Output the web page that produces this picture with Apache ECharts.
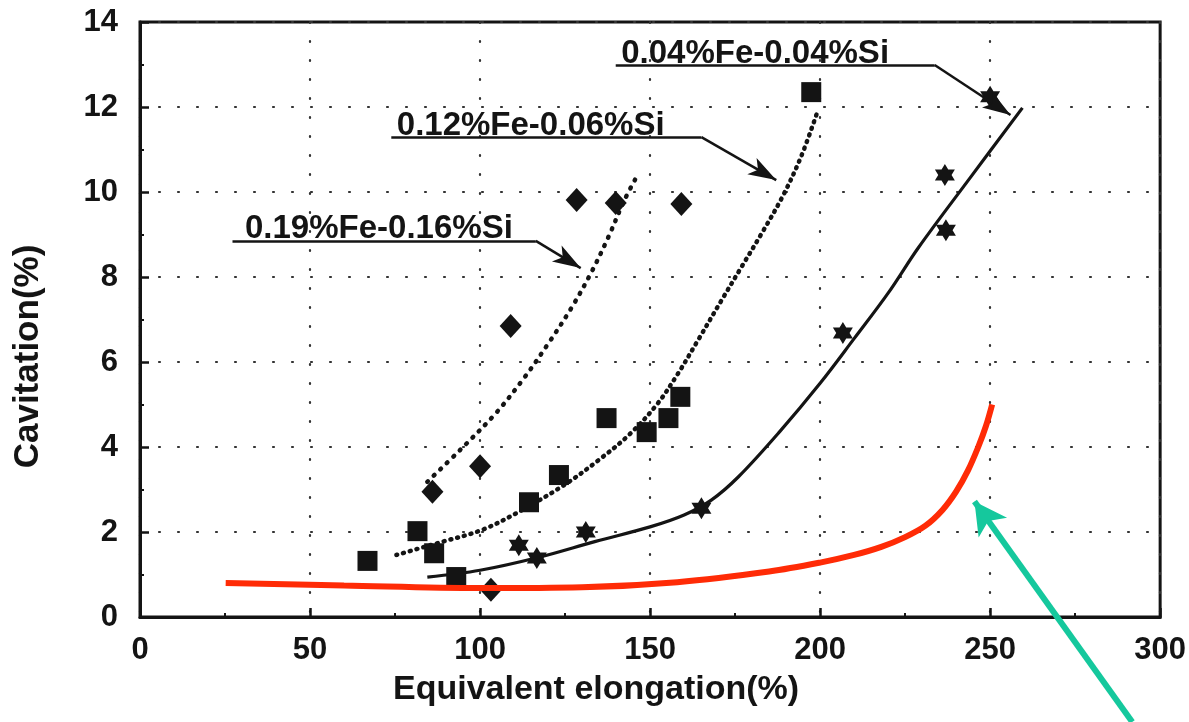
<!DOCTYPE html>
<html><head><meta charset="utf-8">
<script src="https://cdn.jsdelivr.net/npm/echarts@6/dist/echarts.min.js"></script>
<style>html,body{margin:0;padding:0;background:#fff}#c{width:1189px;height:722px}</style>
</head><body><div id="c"></div>
<script>
// ---- tick labels ----
const xTickLabels = [0, 50, 100, 150, 200, 250, 300];
const yTickLabels = [0, 2, 4, 6, 8, 10, 12, 14];

// ---- 0.19%Fe-0.16%Si (diamonds, dotted fit) ----
const fe019Points = [[86, 2.95], [100, 3.55], [109, 6.85], [128.4, 9.81], [139.9, 9.74], [159.2, 9.72], [103.2, 0.64]];
const fe019Fit = [[84.5, 3.18], [94.4, 3.95], [104.7, 4.8], [112.9, 5.62], [120.2, 6.45], [127, 7.29], [132.8, 8.12], [137.8, 8.95], [142.4, 9.8], [146, 10.35]];

// ---- 0.12%Fe-0.06%Si (squares, dotted fit) ----
const fe012Points = [[66.9, 1.32], [81.6, 2.02], [86.5, 1.5], [93, 0.94], [114.4, 2.7], [123.2, 3.34], [137.2, 4.68], [149, 4.35], [155.4, 4.68], [158.9, 5.18], [197.4, 12.35]];
const fe012Fit = [[75.4, 1.46], [88, 1.75], [100.6, 2.05], [112, 2.5], [125, 3.12], [135, 3.7], [144, 4.3], [152, 5.0], [158, 5.7], [164, 6.5], [171, 7.45], [177, 8.25], [183, 9.05], [189, 9.9], [194.5, 10.85], [199.4, 11.93]];

// ---- 0.04%Fe-0.04%Si (stars, solid fit) ----
const fe004Points = [[111.4, 1.69], [116.7, 1.39], [131.1, 2.0], [165.1, 2.56], [206.7, 6.68], [237, 9.1], [236.7, 10.4], [250, 12.24]];
const fe004Fit = [[84.5, 0.94], [100, 1.1], [117, 1.4], [134, 1.78], [150, 2.12], [160, 2.4], [168, 2.75], [176, 3.3], [188, 4.35], [200, 5.5], [210, 6.55], [220, 7.62], [229, 8.7], [244, 10.32], [259.5, 11.98]];

// ---- overlay annotations ----
const redCurve = [[25.2, 0.8], [60, 0.74], [100, 0.68], [130, 0.7], [158, 0.82], [185, 1.07], [200, 1.28], [210, 1.46], [218, 1.65], [225, 1.88], [231, 2.15], [236, 2.52], [240, 2.95], [243.5, 3.45], [246.5, 4.0], [248.8, 4.5], [250.6, 5.0]];
const greenArrow = [[291.8, -2.47], [245.4, 2.72]];

const labelTexts = ['0.19%Fe-0.16%Si', '0.12%Fe-0.06%Si', '0.04%Fe-0.04%Si'];
const leaderPaths = [
  [[27.2, 8.85], [116.4, 8.85], [129.6, 8.21]],
  [[73.9, 11.29], [165.1, 11.29], [187.1, 10.28]],
  [[139.9, 12.99], [233.7, 12.99], [256.0, 11.81]]
];
const labelShift = [13, 6, 6];

const ink = '#141414';
const fontFam = "'Liberation Sans', Arial, sans-serif";
const hexStar = 'path://M10 0 L12.89 5 L18.66 5 L15.77 10 L18.66 15 L12.89 15 L10 20 L7.11 15 L1.34 15 L4.23 10 L1.34 5 L7.11 5 Z';

function leader(path) {
  return {
    silent: true, animation: false, symbol: ['none', 'none'],
    label: { show: false }, emphasis: { disabled: true },
    lineStyle: { color: ink, width: 2.5, type: 'solid' },
    data: [
      [{ coord: path[0] }, { coord: path[1] }],
      [{ coord: path[1] }, { coord: path[2], symbol: 'arrow', symbolSize: [14, 28] }]
    ]
  };
}

const gridLine = { show: true, lineStyle: { color: '#333', width: 2.2, type: [1, 18], cap: 'round' } };

const chart = echarts.init(document.getElementById('c'), null, { renderer: 'canvas' });
chart.setOption({
  animation: false,
  backgroundColor: '#ffffff',
  grid: { left: 140, right: 26, top: 22, bottom: 105, show: true, borderColor: ink, borderWidth: 3, backgroundColor: 'transparent' },
  xAxis: {
    type: 'value', min: xTickLabels[0], max: xTickLabels[xTickLabels.length - 1], interval: xTickLabels[1] - xTickLabels[0],
    name: 'Equivalent elongation(%)', nameLocation: 'middle', nameGap: 56,
    nameTextStyle: { fontFamily: fontFam, fontWeight: 'bold', fontSize: 34, color: ink, padding: [0, 108, 0, 0] },
    axisLine: { lineStyle: { color: ink, width: 3 } },
    axisTick: { inside: true, length: 9, lineStyle: { color: ink, width: 2.5 } },
    minorTick: { show: true, splitNumber: 2, length: 4, lineStyle: { color: ink, width: 2 } },
    axisLabel: { margin: 18, fontFamily: fontFam, fontWeight: 'bold', fontSize: 31, color: ink },
    splitLine: gridLine
  },
  yAxis: {
    type: 'value', min: yTickLabels[0], max: yTickLabels[yTickLabels.length - 1], interval: yTickLabels[1] - yTickLabels[0],
    name: 'Cavitation(%)', nameLocation: 'middle', nameGap: 94, nameRotate: 90,
    nameTextStyle: { fontFamily: fontFam, fontWeight: 'bold', fontSize: 35, color: ink, padding: [0, 74, 0, 0] },
    axisLine: { lineStyle: { color: ink, width: 3 } },
    axisTick: { inside: true, length: 9, lineStyle: { color: ink, width: 2.5 } },
    minorTick: { show: true, splitNumber: 2, length: 4, lineStyle: { color: ink, width: 2 } },
    axisLabel: { margin: 22, fontFamily: fontFam, fontWeight: 'bold', fontSize: 31, color: ink },
    splitLine: gridLine
  },
  series: [
    { type: 'line', data: fe019Fit, smooth: 0.35, symbol: 'none', z: 3,
      lineStyle: { color: ink, width: 4.5, type: [1, 8], cap: 'round' }, markLine: leader(leaderPaths[0]) },
    { type: 'line', data: fe012Fit, smooth: 0.35, symbol: 'none', z: 3,
      lineStyle: { color: ink, width: 4.5, type: [1, 6], cap: 'round' }, markLine: leader(leaderPaths[1]) },
    { type: 'line', data: fe004Fit, smooth: 0.35, symbol: 'none', z: 3,
      lineStyle: { color: ink, width: 3.2 }, markLine: leader(leaderPaths[2]) },
    { type: 'scatter', data: fe019Points, symbol: 'diamond', symbolSize: [22, 24], z: 4, itemStyle: { color: ink, opacity: 1 } },
    { type: 'scatter', data: fe012Points, symbol: 'rect', symbolSize: 20, z: 4, itemStyle: { color: ink, opacity: 1 } },
    { type: 'scatter', data: fe004Points, symbol: hexStar, symbolSize: [20, 22], z: 4, itemStyle: { color: ink, opacity: 1 } },
    { type: 'line', data: redCurve, smooth: 0.35, symbol: 'none', z: 6, clip: false,
      lineStyle: { color: '#ff2b06', width: 6 } },
    { type: 'line', clip: false, z: 7, showSymbol: true,
      data: greenArrow.map((p, i) => i === greenArrow.length - 1
        ? { value: p, symbol: 'arrow', symbolSize: [26, 32], symbolRotate: 35 }
        : { value: p, symbol: 'none' }),
      itemStyle: { color: '#15c89d', opacity: 1 },
      lineStyle: { color: '#15c89d', width: 6 } },
    { type: 'scatter', z: 8, symbolSize: 1, itemStyle: { color: 'transparent', opacity: 1 },
      data: leaderPaths.map((p, i) => ({
        value: p[0],
        label: { show: true, formatter: labelTexts[i], position: [labelShift[i], -11], align: 'left', verticalAlign: 'middle',
          fontFamily: fontFam, fontWeight: 'bold', fontSize: 33, color: ink, opacity: 1 }
      })) }
  ]
});
</script></body></html>
